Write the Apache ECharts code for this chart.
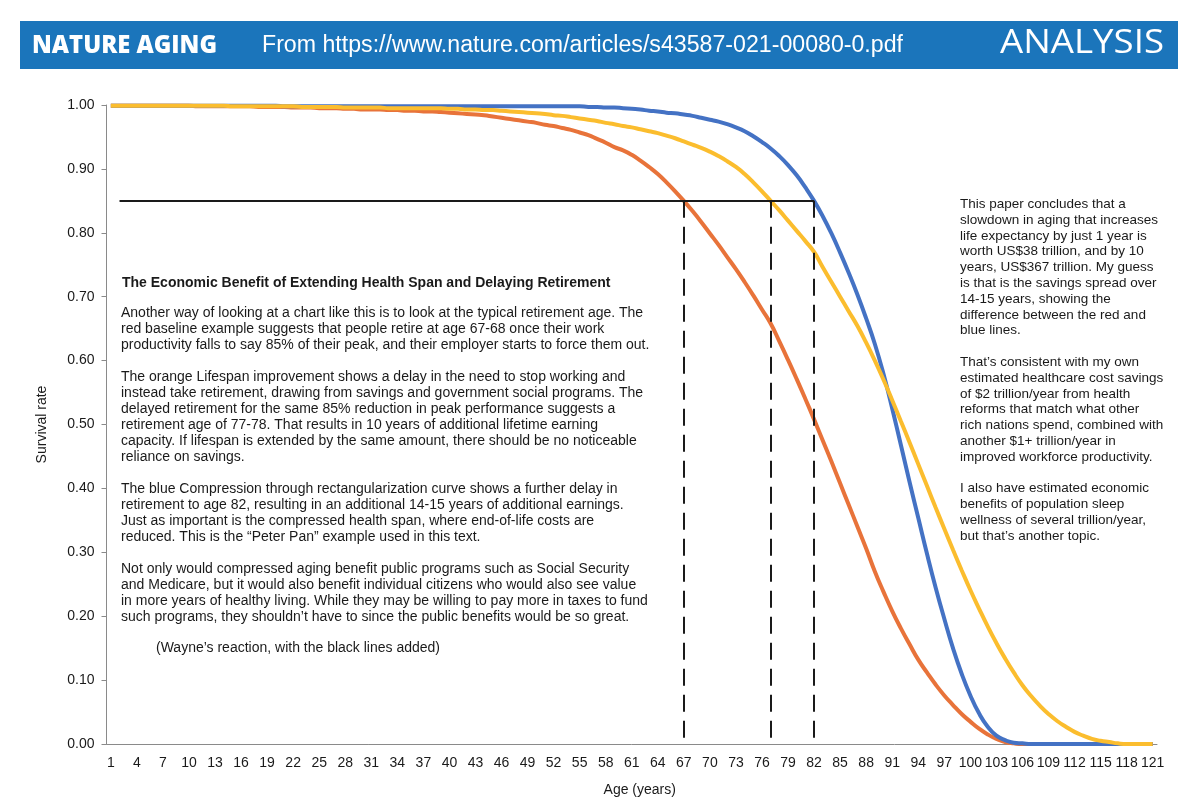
<!DOCTYPE html>
<html>
<head>
<meta charset="utf-8">
<title>Survival rate by age</title>
<script src="https://cdn.jsdelivr.net/npm/echarts@6/dist/echarts.min.js"></script>
<style>
html,body{margin:0;padding:0;background:#fff;}
#main{width:1200px;height:807px;}
</style>
</head>
<body>
<div id="main"></div>
<script>
// x categories: age in years
var ages = [];
for (var a = 1; a <= 121; a++) ages.push(String(a));

// survival rate, one value per age 1..121
// red / orange: baseline
var baseline = [
	0.999,0.999,0.999,0.999,0.999,0.999,0.999,0.999,0.999,0.999,
	0.998,0.998,0.998,0.998,0.998,0.998,0.998,0.997,0.997,0.997,
	0.997,0.996,0.996,0.996,0.995,0.995,0.995,0.994,0.994,0.993,
	0.993,0.993,0.992,0.992,0.991,0.991,0.990,0.990,0.989,0.988,
	0.987,0.986,0.985,0.984,0.982,0.980,0.978,0.976,0.974,0.972,
	0.969,0.967,0.964,0.961,0.957,0.953,0.947,0.941,0.934,0.929,
	0.922,0.913,0.903,0.892,0.879,0.865,0.850,0.834,0.817,0.799,
	0.781,0.762,0.743,0.723,0.702,0.680,0.658,0.630,0.601,0.571,
	0.540,0.508,0.475,0.442,0.408,0.374,0.340,0.306,0.270,0.238,
	0.208,0.181,0.156,0.132,0.112,0.093,0.076,0.061,0.047,0.035,
	0.024,0.015,0.008,0.003,0.001,0.000,0.000,0.000,0.000,0.000,
	0.000,0.000,0.000,0.000,0.000,0.000,0.000,0.000,0.000,0.000,
	0.000
];
// blue: compression through rectangularization
var compression = [
	0.999,0.999,0.999,0.999,0.999,0.999,0.999,0.999,0.999,0.999,
	0.999,0.999,0.999,0.999,0.999,0.999,0.999,0.999,0.999,0.999,
	0.998,0.998,0.998,0.998,0.998,0.998,0.998,0.998,0.998,0.998,
	0.998,0.998,0.998,0.998,0.998,0.998,0.998,0.998,0.998,0.998,
	0.998,0.998,0.998,0.998,0.998,0.998,0.998,0.998,0.998,0.998,
	0.998,0.998,0.998,0.998,0.998,0.997,0.997,0.996,0.996,0.995,
	0.994,0.993,0.991,0.990,0.988,0.987,0.985,0.983,0.980,0.977,
	0.974,0.970,0.965,0.959,0.951,0.942,0.932,0.920,0.906,0.890,
	0.871,0.850,0.826,0.799,0.769,0.737,0.703,0.666,0.626,0.579,
	0.525,0.468,0.410,0.354,0.298,0.245,0.196,0.150,0.110,0.076,
	0.048,0.027,0.013,0.006,0.002,0.001,0.000,0.000,0.000,0.000,
	0.000,0.000,0.000,0.000,0.000,0.000,0.000,0.000,0.000,0.000,
	0.000
];
// yellow: lifespan improvement
var lifespan = [
	0.999,0.999,0.999,0.999,0.999,0.999,0.999,0.999,0.999,0.999,
	0.999,0.999,0.999,0.999,0.998,0.998,0.998,0.998,0.998,0.998,
	0.998,0.998,0.997,0.997,0.997,0.997,0.997,0.996,0.996,0.996,
	0.996,0.996,0.995,0.995,0.995,0.995,0.995,0.995,0.995,0.994,
	0.994,0.993,0.993,0.992,0.992,0.991,0.990,0.989,0.988,0.987,
	0.986,0.984,0.983,0.981,0.979,0.977,0.975,0.972,0.970,0.967,
	0.965,0.962,0.959,0.956,0.952,0.948,0.943,0.938,0.933,0.927,
	0.920,0.912,0.903,0.892,0.879,0.865,0.850,0.835,0.819,0.803,
	0.787,0.770,0.746,0.723,0.700,0.677,0.654,0.628,0.600,0.570,
	0.538,0.505,0.472,0.438,0.404,0.370,0.337,0.304,0.272,0.241,
	0.212,0.184,0.158,0.134,0.112,0.092,0.075,0.060,0.047,0.036,
	0.027,0.019,0.013,0.008,0.005,0.003,0.001,0.000,0.000,0.000,
	0.000
];

// the black lines added by hand: 85% level and the three retirement ages
var peakLevel = 0.85;
var levelStartAge = '2';
var retireAges = ['67', '77', '82'];

var leftTitle = 'The Economic Benefit of Extending Health Span and Delaying Retirement';
var leftText = [
	'Another way of looking at a chart like this is to look at the typical retirement age. The',
	'red baseline example suggests that people retire at age 67-68 once their work',
	'productivity falls to say 85% of their peak, and their employer starts to force them out.',
	'',
	'The orange Lifespan improvement shows a delay in the need to stop working and',
	'instead take retirement, drawing from savings and government social programs. The',
	'delayed retirement for the same 85% reduction in peak performance suggests a',
	'retirement age of 77-78. That results in 10 years of additional lifetime earning',
	'capacity. If lifespan is extended by the same amount, there should be no noticeable',
	'reliance on savings.',
	'',
	'The blue Compression through rectangularization curve shows a further delay in',
	'retirement to age 82, resulting in an additional 14-15 years of additional earnings.',
	'Just as important is the compressed health span, where end-of-life costs are',
	'reduced. This is the \u201cPeter Pan\u201d example used in this text.',
	'',
	'Not only would compressed aging benefit public programs such as Social Security',
	'and Medicare, but it would also benefit individual citizens who would also see value',
	'in more years of healthy living. While they may be willing to pay more in taxes to fund',
	'such programs, they shouldn\u2019t have to since the public benefits would be so great.'
];
var noteText = '(Wayne\u2019s reaction, with the black lines added)';
var rightText = [
	'This paper concludes that a',
	'slowdown in aging that increases',
	'life expectancy by just 1 year is',
	'worth US$38 trillion, and by 10',
	'years, US$367 trillion. My guess',
	'is that is the savings spread over',
	'14-15 years, showing the',
	'difference between the red and',
	'blue lines.',
	'',
	'That\u2019s consistent with my own',
	'estimated healthcare cost savings',
	'of $2 trillion/year from health',
	'reforms that match what other',
	'rich nations spend, combined with',
	'another $1+ trillion/year in',
	'improved workforce productivity.',
	'',
	'I also have estimated economic',
	'benefits of population sleep',
	'wellness of several trillion/year,',
	'but that\u2019s another topic.'
];

var FONT = '"Liberation Sans", Arial, Helvetica, sans-serif';
var TXT = '#1a1a1a';
var AXIS = '#8a8a8a';

//宽度匹配
var measureCtx = document.createElement('canvas').getContext('2d');
function fitScale(text, font, width){
	measureCtx.font = font;
	return width / measureCtx.measureText(text).width;
}

var headFont1 = '800 24px "Open Sans", sans-serif';
var headFont2 = '23px "Liberation Sans", Arial, sans-serif';
var headFont3 = '32px "Open Sans", sans-serif';
var headUrl = 'From https://www.nature.com/articles/s43587-021-00080-0.pdf';

var retireLines = [[{coord:[levelStartAge, peakLevel], lineStyle:{type:'solid', width:2}}, {coord:[retireAges[2], peakLevel]}]];
retireAges.forEach(function(age){
	retireLines.push([{coord:[age, peakLevel], lineStyle:{type:[17, 9], width:2}}, {coord:[age, 0]}]);
});

function curve(name, data, color, extra){
	var s = {
		name: name,
		type: 'line',
		data: data,
		smooth: true,
		symbol: 'none',
		lineStyle: {color: color, width: 4},
		itemStyle: {color: color}
	};
	for (var k in extra) s[k] = extra[k];
	return s;
}

var myChart = echarts.init(document.getElementById('main'), null, {renderer: 'canvas'});
var option = {
	animation: false,
	backgroundColor: '#fff',
	grid: {left: 106.5, right: 43, top: 105, bottom: 63, containLabel: false},
	xAxis: {
		type: 'category',
		data: ages,
		boundaryGap: true,
		name: 'Age (years)',
		nameLocation: 'middle',
		nameGap: 39,
		nameTextStyle: {fontFamily: FONT, fontSize: 14, color: TXT, padding: [0, 0, 0, 16]},
		axisLine: {lineStyle: {color: AXIS, width: 1}},
		axisTick: {interval: 2, alignWithLabel: true, length: 5, lineStyle: {color: AXIS}},
		axisLabel: {interval: 2, margin: 12, fontFamily: FONT, fontSize: 14, color: TXT},
		splitLine: {show: false}
	},
	yAxis: {
		type: 'value',
		min: 0,
		max: 1,
		interval: 0.1,
		name: 'Survival rate',
		nameLocation: 'middle',
		nameRotate: 90,
		nameGap: 57,
		nameTextStyle: {fontFamily: FONT, fontSize: 14, color: TXT},
		axisLine: {show: true, lineStyle: {color: AXIS, width: 1}},
		axisTick: {show: true, length: 5, lineStyle: {color: AXIS}},
		axisLabel: {margin: 12, fontFamily: FONT, fontSize: 14, color: TXT, formatter: function(v){ return v.toFixed(2); }},
		splitLine: {show: false}
	},
	series: [
		curve('Baseline', baseline, '#e8733a', {
			markLine: {
				silent: true,
				symbol: ['none', 'none'],
				label: {show: false},
				lineStyle: {color: '#1a1a1a', width: 2},
				data: retireLines,
				z: 10
			}
		}),
		curve('Compression', compression, '#4472c4', {}),
		curve('Lifespan', lifespan, '#fbbd2e', {})
	],
	graphic: [
		{type: 'rect', shape: {x: 20, y: 21, width: 1158, height: 48}, style: {fill: '#1b75bb'}},
		{type: 'text', x: 32, y: 46, scaleX: fitScale('NATURE AGING', headFont1, 185),
			style: {text: 'NATURE AGING', font: headFont1, fill: '#fff', verticalAlign: 'middle'}},
		{type: 'text', x: 262, y: 46, scaleX: fitScale(headUrl, headFont2, 641),
			style: {text: headUrl, font: headFont2, fill: '#fff', verticalAlign: 'middle'}},
		{type: 'text', x: 1000, y: 44, scaleX: fitScale('ANALYSIS', headFont3, 164),
			style: {text: 'ANALYSIS', font: headFont3, fill: '#fff', verticalAlign: 'middle'}},
		{type: 'text', x: 122, y: 282.7,
			style: {text: leftTitle, font: 'bold 14px ' + FONT, fill: TXT, verticalAlign: 'middle'}},
		{type: 'text', x: 121, y: 305.3,
			style: {text: leftText.join('\n'), font: '14px ' + FONT, fill: TXT, lineHeight: 16, verticalAlign: 'top'}},
		{type: 'text', x: 156, y: 648,
			style: {text: noteText, font: '14px ' + FONT, fill: TXT, verticalAlign: 'middle'}},
		{type: 'text', x: 960, y: 196.4,
			style: {text: rightText.join('\n'), font: '13.5px ' + FONT, fill: TXT, lineHeight: 15.8, verticalAlign: 'top'}}
	]
};
myChart.setOption(option);
</script>
</body>
</html>
